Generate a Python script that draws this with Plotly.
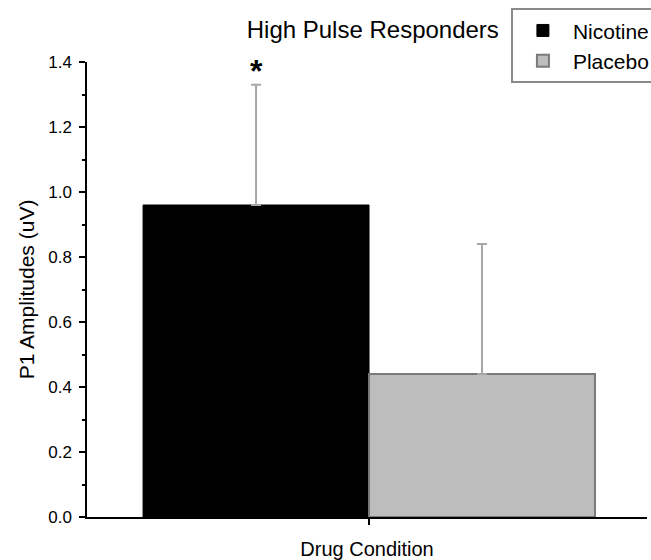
import plotly.graph_objects as go

# Data
condition = [""]
series_names = ["Nicotine", "Placebo"]
means = [0.96, 0.44]
err_up = [0.37, 0.40]
significance = ["*", ""]

fill_colors = ["#000000", "#bdbdbd"]
line_colors = ["#000000", "#7a7a7a"]
BARGAP = 0.193

fig = go.Figure()
for name, m, e, fc, lc in zip(series_names, means, err_up, fill_colors, line_colors):
    fig.add_trace(go.Bar(
        x=condition, y=[m], name=name,
        marker=dict(color=fc, line=dict(color=lc, width=2 if name == "Placebo" else 1)),
        error_y=dict(type="data", array=[e], arrayminus=[0], symmetric=False,
                     color="#a6a6a6", thickness=2, width=5),
    ))

# significance marker above the Nicotine bar's error bar
n = len(series_names)
group_w = 1 - BARGAP
for i, s in enumerate(significance):
    if s:
        xpos = -group_w / 2 + group_w / n * (i + 0.5)
        fig.add_annotation(x=xpos, y=means[i] + err_up[i], xref="x", yref="y",
                           text="<b>" + s + "</b>", showarrow=False, yshift=14,
                           font=dict(size=32, color="black", family="Arial"))

fig.update_layout(
    width=651, height=560,
    margin=dict(l=87, r=4, t=62, b=43, autoexpand=False),
    paper_bgcolor="white", plot_bgcolor="white",
    font=dict(family="Arial", color="black"),
    barmode="group", bargap=BARGAP, bargroupgap=0,
    title=dict(text="High Pulse Responders", font=dict(size=24, color="black"),
               xref="container", x=0.379, xanchor="left",
               yref="container", y=0.948, yanchor="middle"),
    legend=dict(x=0.757, y=1.118, xanchor="left", yanchor="top",
                bordercolor="#8a8a8a", borderwidth=2, bgcolor="white",
                font=dict(size=21, color="black"), tracegroupgap=0,
                itemwidth=50),
    showlegend=True,
)
fig.update_xaxes(
    range=[-0.5036, 0.4964], showline=True, linecolor="black", linewidth=1.5,
    ticks="outside", ticklen=6, tickwidth=1.5, tickcolor="black",
    showticklabels=False, showgrid=False, zeroline=False,
    title=dict(text="Drug Condition", font=dict(size=20, color="black"), standoff=19),
)
fig.update_yaxes(
    range=[0, 1.4], dtick=0.2, tickformat=".1f", showline=True, linecolor="black",
    linewidth=1.5, ticks="outside", ticklen=6, tickwidth=1.5, tickcolor="black",
    tickfont=dict(size=17, color="black"), ticklabelstandoff=4,
    minor=dict(dtick=0.1, ticks="outside", ticklen=3, tickwidth=1.5, tickcolor="black"),
    showgrid=False, zeroline=False,
    title=dict(text="P1 Amplitudes (uV)", font=dict(size=21, color="black"), standoff=8),
)

fig.write_html("out.html")
